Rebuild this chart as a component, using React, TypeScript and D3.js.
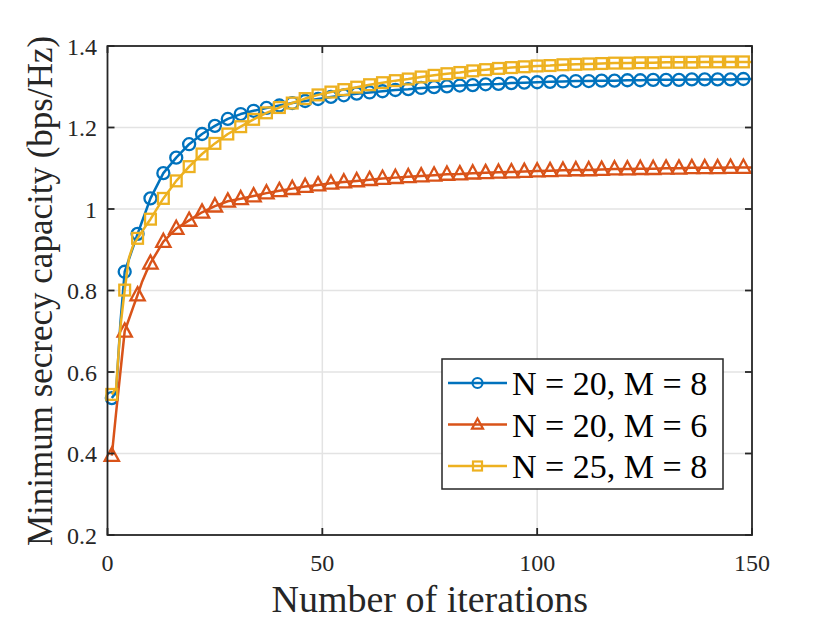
import * as React from 'react';
import * as d3 from 'd3';

// iteration indices where the curves were sampled (markers every 3rd iteration)
const iterations = [1, 2, 3, 4, 5, 6, 7, 8, 9, 10, 13, 16, 19, 22, 25, 28, 31, 34, 37, 40,
    43, 46, 49, 52, 55, 58, 61, 64, 67, 70, 73, 76, 79, 82, 85, 88, 91, 94, 97, 100,
    103, 106, 109, 112, 115, 118, 121, 124, 127, 130, 133, 136, 139, 142, 145, 148, 150];

const capN20M8 = [0.536, 0.55, 0.72, 0.846, 0.877, 0.908, 0.939, 0.968, 0.997, 1.026,
    1.088, 1.126, 1.159, 1.184, 1.204, 1.221, 1.233, 1.241, 1.248, 1.254,
    1.260, 1.265, 1.270, 1.275, 1.279, 1.283, 1.286, 1.289, 1.292, 1.294,
    1.297, 1.299, 1.301, 1.303, 1.304, 1.306, 1.307, 1.309, 1.310, 1.311,
    1.312, 1.313, 1.314, 1.314, 1.315, 1.315, 1.316, 1.316, 1.317, 1.317,
    1.317, 1.318, 1.318, 1.318, 1.318, 1.319, 1.319];

const capN20M6 = [0.395, 0.50, 0.60, 0.70, 0.73, 0.76, 0.789, 0.82, 0.845, 0.867,
    0.920, 0.952, 0.972, 0.992, 1.007, 1.019, 1.025, 1.032, 1.039, 1.045,
    1.050, 1.055, 1.059, 1.063, 1.066, 1.069, 1.072, 1.075, 1.077, 1.079,
    1.081, 1.083, 1.085, 1.086, 1.088, 1.089, 1.090, 1.091, 1.092, 1.093,
    1.094, 1.095, 1.096, 1.096, 1.097, 1.098, 1.098, 1.099, 1.099, 1.100,
    1.100, 1.101, 1.101, 1.101, 1.102, 1.102, 1.102];

const capN25M8 = [0.545, 0.56, 0.71, 0.801, 0.88, 0.912, 0.928, 0.944, 0.96, 0.975,
    1.026, 1.069, 1.104, 1.135, 1.161, 1.184, 1.202, 1.220, 1.236, 1.249,
    1.260, 1.271, 1.280, 1.287, 1.293, 1.299, 1.305, 1.310, 1.315, 1.319,
    1.324, 1.328, 1.332, 1.335, 1.339, 1.342, 1.345, 1.347, 1.349, 1.351,
    1.352, 1.354, 1.355, 1.356, 1.357, 1.358, 1.358, 1.359, 1.359, 1.360,
    1.360, 1.360, 1.361, 1.361, 1.361, 1.361, 1.361];

const seriesNames = ['N = 20, M = 8', 'N = 20, M = 6', 'N = 25, M = 8'];
const xTicks = [0, 50, 100, 150];
const yTicks = [0.2, 0.4, 0.6, 0.8, 1, 1.2, 1.4];

const config = {
    width: 830,
    height: 623,
    left: 107.5,
    right: 752,
    top: 46,
    bottom: 535,
    colours: ['#0072BD', '#D95319', '#EDB120'],
    markers: ['circle', 'triangle', 'square'],
    font: '"Liberation Serif", serif'
};

function drawMarker(g, kind, x, y, s, colour, sw) {
    if (kind === 'circle') {
        g.append('circle').attr('cx', x).attr('cy', y).attr('r', s * 0.5)
            .attr('fill', 'none').attr('stroke', colour).attr('stroke-width', sw);
    } else if (kind === 'square') {
        g.append('rect').attr('x', x - s * 0.45).attr('y', y - s * 0.45)
            .attr('width', s * 0.9).attr('height', s * 0.9)
            .attr('fill', 'none').attr('stroke', colour).attr('stroke-width', sw);
    } else {
        const h = s * 0.55;
        g.append('path')
            .attr('d', `M${x},${y - h * 1.1}L${x + h},${y + h * 0.75}L${x - h},${y + h * 0.75}Z`)
            .attr('fill', 'none').attr('stroke', colour).attr('stroke-width', sw)
            .attr('stroke-linejoin', 'miter');
    }
}

export default function App() {
    const ref = React.useRef(null);

    React.useEffect(() => {
        const svg = d3.select(ref.current);
        svg.selectAll('*').remove();

        const xScale = d3.scaleLinear().domain([0, 150]).range([config.left, config.right]);
        const yScale = d3.scaleLinear().domain([0.2, 1.4]).range([config.bottom, config.top]);

        svg.append('rect').attr('width', config.width).attr('height', config.height).attr('fill', '#fff');

        // grid
        const grid = svg.append('g');
        grid.selectAll('.gx').data(xTicks.slice(1, -1)).enter().append('line')
            .attr('x1', d => xScale(d)).attr('x2', d => xScale(d))
            .attr('y1', config.top).attr('y2', config.bottom)
            .attr('stroke', '#e3e3e3').attr('stroke-width', 1.5);
        grid.selectAll('.gy').data(yTicks.slice(1, -1)).enter().append('line')
            .attr('x1', config.left).attr('x2', config.right)
            .attr('y1', d => yScale(d)).attr('y2', d => yScale(d))
            .attr('stroke', '#e3e3e3').attr('stroke-width', 1.5);

        // series
        const allSeries = [capN20M8, capN20M6, capN25M8];
        const line = d3.line<number>()
            .x((d, i) => xScale(iterations[i]))
            .y(d => yScale(d));
        allSeries.forEach((values, k) => {
            const g = svg.append('g');
            g.append('path').datum(values).attr('d', line)
                .attr('fill', 'none').attr('stroke', config.colours[k])
                .attr('stroke-width', 2.5).attr('stroke-linejoin', 'round');
            values.forEach((v, i) => {
                if ((iterations[i] - 1) % 3 === 0) {
                    drawMarker(g, config.markers[k], xScale(iterations[i]), yScale(v),
                        config.markers[k] === 'triangle' ? 13 : 12, config.colours[k], 2.3);
                }
            });
        });

        // axes box and ticks
        const axis = svg.append('g');
        axis.append('rect').attr('x', config.left).attr('y', config.top)
            .attr('width', config.right - config.left).attr('height', config.bottom - config.top)
            .attr('fill', 'none').attr('stroke', '#262626').attr('stroke-width', 1.8);
        const tl = 7;
        xTicks.forEach(t => {
            const x = xScale(t);
            axis.append('line').attr('x1', x).attr('x2', x).attr('y1', config.bottom).attr('y2', config.bottom - tl)
                .attr('stroke', '#262626').attr('stroke-width', 1.8);
            axis.append('line').attr('x1', x).attr('x2', x).attr('y1', config.top).attr('y2', config.top + tl)
                .attr('stroke', '#262626').attr('stroke-width', 1.8);
            axis.append('text').attr('x', x).attr('y', config.bottom + 36)
                .attr('text-anchor', 'middle').attr('font-family', config.font).attr('font-size', 24)
                .attr('fill', '#262626').text(d3.format('d')(t));
        });
        yTicks.forEach(t => {
            const y = yScale(t);
            axis.append('line').attr('x1', config.left).attr('x2', config.left + tl).attr('y1', y).attr('y2', y)
                .attr('stroke', '#262626').attr('stroke-width', 1.8);
            axis.append('line').attr('x1', config.right).attr('x2', config.right - tl).attr('y1', y).attr('y2', y)
                .attr('stroke', '#262626').attr('stroke-width', 1.8);
            axis.append('text').attr('x', config.left - 10.5).attr('y', y + 8.5)
                .attr('text-anchor', 'end').attr('font-family', config.font).attr('font-size', 24)
                .attr('fill', '#262626').text(String(t));
        });

        // axis labels
        svg.append('text').attr('x', (config.left + config.right) / 2).attr('y', 611.5)
            .attr('text-anchor', 'middle').attr('font-family', config.font).attr('font-size', 38)
            .attr('fill', '#262626').text('Number of iterations');
        svg.append('text').attr('transform', 'translate(52,291) rotate(-90)')
            .attr('text-anchor', 'middle').attr('font-family', config.font).attr('font-size', 35)
            .attr('fill', '#262626').text('Minimum secrecy capacity (bps/Hz)');

        // legend
        const legend = svg.append('g');
        legend.append('rect').attr('x', 442).attr('y', 359).attr('width', 281).attr('height', 130)
            .attr('fill', '#fff').attr('stroke', '#262626').attr('stroke-width', 1.5);
        const rowY = [383, 424.5, 466];
        seriesNames.forEach((name, k) => {
            const y = rowY[k];
            legend.append('line').attr('x1', 448).attr('x2', 507).attr('y1', y).attr('y2', y)
                .attr('stroke', config.colours[k]).attr('stroke-width', 2.5);
            drawMarker(legend, config.markers[k], 477.5, y, 10, config.colours[k], 2.2);
            legend.append('text').attr('x', 512).attr('y', y + 12)
                .attr('font-family', config.font).attr('font-size', 34)
                .attr('fill', '#000').text(name);
        });
    }, []);

    return (
        <svg ref={ref} width={config.width} height={config.height}
            style={{ position: 'absolute', left: 0, top: 0 }} />
    );
}
